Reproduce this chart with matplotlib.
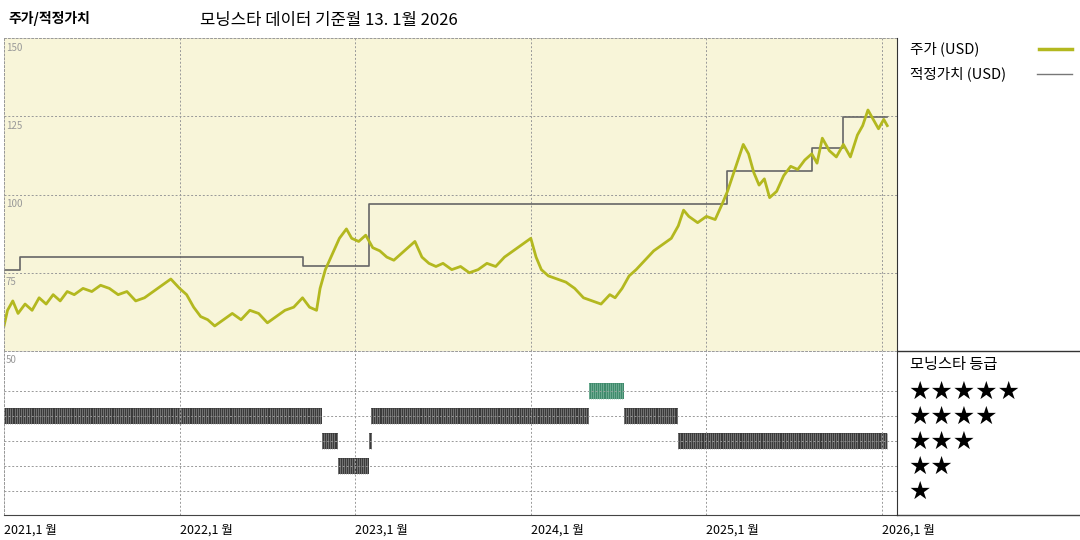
import numpy as np
import matplotlib
matplotlib.use("Agg")
import matplotlib.pyplot as plt

plt.rcParams['font.family'] = ['Noto Sans CJK KR', 'DejaVu Sans']

# 주가 (USD), 손으로 읽은 값
PRICE_T = [2021.00, 2021.02, 2021.05, 2021.08, 2021.12, 2021.16, 2021.20, 2021.24, 2021.28, 2021.32,
           2021.36, 2021.40, 2021.45, 2021.50, 2021.55, 2021.60, 2021.65, 2021.70, 2021.75, 2021.80,
           2021.85, 2021.90, 2021.95, 2022.00, 2022.04, 2022.08, 2022.12, 2022.16, 2022.20, 2022.25,
           2022.30, 2022.35, 2022.40, 2022.45, 2022.50, 2022.55, 2022.60, 2022.65, 2022.70, 2022.74,
           2022.78, 2022.80, 2022.83, 2022.87, 2022.91, 2022.95, 2022.98, 2023.02, 2023.06, 2023.10,
           2023.14, 2023.18, 2023.22, 2023.26, 2023.30, 2023.34, 2023.38, 2023.42, 2023.46, 2023.50,
           2023.55, 2023.60, 2023.65, 2023.70, 2023.75, 2023.80, 2023.85, 2023.90, 2023.95, 2024.00,
           2024.03, 2024.06, 2024.10, 2024.15, 2024.20, 2024.25, 2024.30, 2024.35, 2024.40, 2024.45,
           2024.48, 2024.52, 2024.56, 2024.60, 2024.65, 2024.70, 2024.75, 2024.80, 2024.84, 2024.87,
           2024.90, 2024.95, 2025.00, 2025.05, 2025.09, 2025.12, 2025.15, 2025.18, 2025.21, 2025.24,
           2025.27, 2025.30, 2025.33, 2025.36, 2025.40, 2025.44, 2025.48, 2025.52, 2025.56, 2025.60,
           2025.63, 2025.66, 2025.70, 2025.74, 2025.78, 2025.82, 2025.86, 2025.89, 2025.92, 2025.95,
           2025.98, 2026.01, 2026.03]
PRICE = [58, 63, 66, 62, 65, 63, 67, 65, 68, 66,
         69, 68, 70, 69, 71, 70, 68, 69, 66, 67,
         69, 71, 73, 70, 68, 64, 61, 60, 58, 60,
         62, 60, 63, 62, 59, 61, 63, 64, 67, 64,
         63, 70, 76, 81, 86, 89, 86, 85, 87, 83,
         82, 80, 79, 81, 83, 85, 80, 78, 77, 78,
         76, 77, 75, 76, 78, 77, 80, 82, 84, 86,
         80, 76, 74, 73, 72, 70, 67, 66, 65, 68,
         67, 70, 74, 76, 79, 82, 84, 86, 90, 95,
         93, 91, 93, 92, 97, 101, 106, 111, 116, 113,
         107, 103, 105, 99, 101, 106, 109, 108, 111, 113,
         110, 118, 114, 112, 116, 112, 119, 122, 127, 124,
         121, 124, 122]

# 적정가치 (USD), 계단형
FV_T = [2021.00, 2021.09, 2022.70, 2023.08, 2025.12, 2025.60, 2025.78, 2026.03]
FV = [76, 80, 77, 97, 107.5, 115, 124.8, 124.8]

# 모닝스타 등급 구간 (시작, 끝, 별 수)
RATING_START = [2021.00, 2022.81, 2022.90, 2023.08, 2023.09, 2024.33, 2024.53, 2024.84]
RATING_END = [2022.81, 2022.90, 2023.08, 2023.095, 2024.33, 2024.53, 2024.84, 2026.03]
RATING_STARS = [4, 3, 2, 3, 4, 5, 4, 3]

YEARS = [2021, 2022, 2023, 2024, 2025, 2026]
XLIM = (2021.0, 2021.0 + 893 / 175.6)

BG = "#f8f5d9"
GOLD = "#b3b81f"
GRID = dict(color="#999999", ls=(0, (2, 2)), lw=0.7)

fig = plt.figure(figsize=(10.8, 5.4), dpi=100)
W, H = 1080, 540


def px_axes(x0, y0, x1, y1):
    return fig.add_axes([x0 / W, 1 - y1 / H, (x1 - x0) / W, (y1 - y0) / H])


# --- 위 패널: 주가/적정가치 ---
ax = px_axes(4, 38, 897, 351)
ax.set_facecolor(BG)
ax.set_xlim(*XLIM); ax.set_ylim(50, 150)
for y in [75, 100, 125]:
    ax.axhline(y, **GRID)
for yr in YEARS:
    ax.axvline(yr, **GRID)
ax.plot(FV_T, FV, drawstyle="steps-post", color="#666666", lw=1.2)
ax.plot(PRICE_T, PRICE, color=GOLD, lw=2)
for y in [150, 125, 100, 75]:
    ax.text(XLIM[0] + 0.01, y - 1.5, str(y), va="top", ha="left", fontsize=7, color="#999999")
ax.set_xticks([]); ax.set_yticks([])
for s in ax.spines.values():
    s.set_color("#999999"); s.set_linestyle((0, (2, 2))); s.set_linewidth(0.7)

# --- 아래 패널: 등급 ---
bx = px_axes(4, 351, 897, 515)
bx.set_xlim(*XLIM); bx.set_ylim(0.04, 6.6)
for y in [1, 2, 3, 4, 5]:
    bx.axhline(y, **GRID)
for yr in YEARS:
    bx.axvline(yr, **GRID)
for t0, t1, st in zip(RATING_START, RATING_END, RATING_STARS):
    col = "#3f8a6c" if st == 5 else "#3a3a3a"
    bx.broken_barh([(t0, max(t1 - t0, 0.004))], (st - 0.33, 0.66), color=col, lw=0)
    stripes = np.arange(t0, t1, 0.012)
    bx.vlines(stripes, st - 0.33, st + 0.33, color="#8a8a8a" if st != 5 else "#7fb9a0", lw=0.5)
bx.text(XLIM[0] + 0.01, 6.45, "50", va="top", ha="left", fontsize=7, color="#999999")
bx.set_xticks([]); bx.set_yticks([])
for k in ["top", "left", "right"]:
    bx.spines[k].set_color("#999999"); bx.spines[k].set_linestyle((0, (2, 2))); bx.spines[k].set_linewidth(0.7)
bx.spines["bottom"].set_color("#444444")
for yr in YEARS:
    bx.text(yr, -0.05, f"{yr},1 월", transform=bx.get_xaxis_transform(), ha="left", va="top", fontsize=9)

# --- 오른쪽 범례 패널 ---
lx = px_axes(897, 38, 1080, 515)
lx.set_xlim(0, 183); lx.set_ylim(477, 0)
lx.set_xticks([]); lx.set_yticks([])
for k in ["top", "right", "bottom"]:
    lx.spines[k].set_visible(False)
lx.spines["left"].set_color("#333333")
lx.axhline(313, color="#333333", lw=1)
lx.plot([0, 183], [477, 477], color="#444444", lw=1, clip_on=False)
lx.text(13, 11, "주가 (USD)", fontsize=10.5, va="center")
lx.plot([142, 175], [11, 11], color=GOLD, lw=2.5)
lx.text(13, 36, "적정가치 (USD)", fontsize=10.5, va="center")
lx.plot([140, 175], [36, 36], color="#777777", lw=1)
lx.text(13, 326, "모닝스타 등급", fontsize=11, va="center")
for i, n in enumerate([5, 4, 3, 2, 1]):
    lx.text(11, 354 + 25 * i, "★" * n, fontsize=18, va="center",
            family=["DejaVu Sans"])

fig.text(8 / W, 1 - 18 / H, "주가/적정가치", fontsize=10, fontweight="bold", va="center")
fig.text(200 / W, 1 - 20 / H, "모닝스타 데이터 기준월 13. 1월 2026", fontsize=12, va="center")

fig.savefig("out.png", dpi=100)
